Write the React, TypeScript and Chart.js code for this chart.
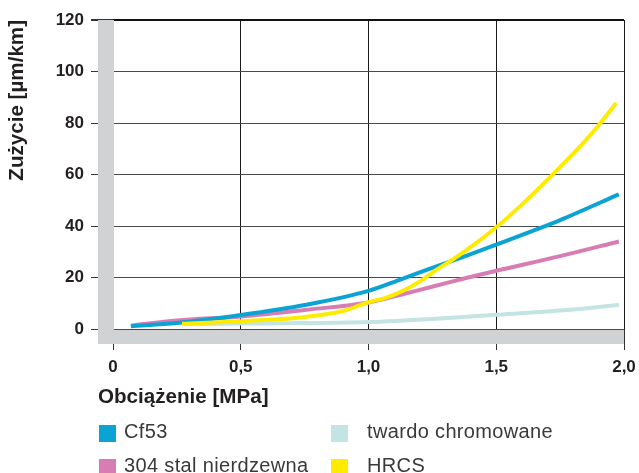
import React, { useEffect, useRef } from 'react';
import { Chart, registerables } from 'chart.js';

Chart.register(...registerables);

// ---- data ----
const xTickValues = [0, 0.5, 1, 1.5, 2];
const xTickLabels = ['0', '0,5', '1,0', '1,5', '2,0'];
const yTickValues = [0, 20, 40, 60, 80, 100, 120];

const cf53X = [0.07, 0.25, 0.5, 0.75, 1.0, 1.13, 1.26, 1.39, 1.5, 1.75, 1.98];
const cf53Y = [1.1, 2.3, 5.4, 9.3, 14.8, 19.4, 24.1, 28.7, 32.8, 42.3, 52.3];

const stal304X = [0.07, 0.25, 0.5, 0.75, 1.0, 1.13, 1.26, 1.39, 1.5, 1.75, 1.98];
const stal304Y = [1.3, 3.3, 4.9, 7.4, 10.3, 13.4, 16.7, 20.0, 22.6, 28.3, 34.0];

const chromX = [0.27, 0.5, 0.75, 1.0, 1.25, 1.5, 1.75, 1.98];
const chromY = [1.9, 2.1, 2.3, 2.7, 3.9, 5.5, 7.2, 9.3];

const hrcsX = [0.27, 0.5, 0.75, 0.9, 1.0, 1.07, 1.13, 1.2, 1.26, 1.33, 1.39, 1.5, 1.6, 1.74, 1.87, 1.97];
const hrcsY = [2.0, 3.0, 4.7, 7.0, 10.4, 12.2, 14.6, 18.4, 22.6, 27.0, 31.1, 39.5, 48.3, 61.9, 75.5, 87.8];

const seriesNames = ['Cf53', '304 stal nierdzewna', 'twardo chromowane', 'HRCS'];
const seriesColors = ['#0aa3d4', '#d77db3', '#c3e4e2', '#ffeb00'];

const yTitle = 'Zużycie [µm/km]';
const xTitle = 'Obciążenie [MPa]';

const FONT = "'Liberation Sans', Arial, Helvetica, sans-serif";

const toPts = (xs: number[], ys: number[]) => xs.map((x, i) => ({ x, y: ys[i] }));

const grayBars = {
  id: 'grayBars',
  beforeDatasetsDraw(chart: any) {
    const { ctx, chartArea } = chart;
    const { left, right, top, bottom } = chartArea;
    ctx.save();
    ctx.fillStyle = '#d1d2d4';
    ctx.fillRect(left - 15, top, 16, bottom + 15 - top);
    ctx.fillRect(left - 15, bottom + 1, right - left + 15, 14);
    ctx.restore();
  },
};

export default function App() {
  const ref = useRef<HTMLCanvasElement | null>(null);

  useEffect(() => {
    if (!ref.current) return;
    const mk = (i: number, xs: number[], ys: number[], order: number) => ({
      label: seriesNames[i],
      data: toPts(xs, ys),
      borderColor: seriesColors[i],
      backgroundColor: seriesColors[i],
      borderWidth: 4,
      pointRadius: 0,
      showLine: true,
      fill: false,
      cubicInterpolationMode: 'monotone' as const,
      borderCapStyle: 'butt' as const,
      order,
    });
    const chart = new Chart(ref.current, {
      type: 'scatter',
      data: {
        datasets: [
          mk(3, hrcsX, hrcsY, 0),
          mk(0, cf53X, cf53Y, 1),
          mk(1, stal304X, stal304Y, 2),
          mk(2, chromX, chromY, 3),
        ],
      },
      options: {
        animation: false,
        responsive: false,
        devicePixelRatio: 1,
        layout: { padding: { top: 20, right: 15, left: 0, bottom: 0 } },
        plugins: { legend: { display: false }, tooltip: { enabled: false } },
        scales: {
          x: {
            type: 'linear',
            min: 0,
            max: 2,
            afterFit: (s: any) => { s.height = 144; s.paddingRight = 0; s.paddingLeft = 0; },
            afterBuildTicks: (s: any) => { s.ticks = xTickValues.map((v) => ({ value: v })); },
            border: { display: false },
            grid: {
              color: '#1a1a1a',
              lineWidth: 1,
              tickLength: 21,
              tickColor: '#333',
            },
            ticks: {
              padding: 7,
              color: '#231f20',
              font: { family: FONT, size: 17, weight: 'bold' },
              callback: (v: any) => {
                const i = xTickValues.indexOf(Number(v));
                return i >= 0 ? xTickLabels[i] : '';
              },
            },
          },
          y: {
            type: 'linear',
            min: 0,
            max: 120,
            afterFit: (s: any) => { s.width = 113; },
            afterBuildTicks: (s: any) => { s.ticks = yTickValues.map((v) => ({ value: v })); },
            border: { display: false },
            grid: {
              color: (c: any) => (c.tick && c.tick.value === 120 ? '#111' : '#4a4a4a'),
              lineWidth: (c: any) => (c.tick && c.tick.value === 120 ? 2 : 1),
              tickLength: 22,
              tickColor: '#333',
            },
            ticks: {
              padding: 7,
              color: '#231f20',
              font: { family: FONT, size: 17, weight: 'bold' },
            },
            title: {
              display: true,
              text: yTitle,
              align: 'end',
              color: '#231f20',
              font: { family: FONT, size: 20.6, weight: 'bold' },
              padding: { top: 5, bottom: 0 },
            },
          },
        },
      },
      plugins: [grayBars],
    } as any);
    return () => chart.destroy();
  }, []);

  const legendItems = [
    { i: 0, left: 99, top: 425 },
    { i: 2, left: 331, top: 425 },
    { i: 1, left: 99, top: 459 },
    { i: 3, left: 331, top: 459 },
  ];

  return (
    <div style={{ position: 'absolute', left: 0, top: 0, width: 639, height: 473, background: '#fff', overflow: 'hidden' }}>
      <canvas ref={ref} width={639} height={473} style={{ position: 'absolute', left: 0, top: 0, width: 639, height: 473 }} />
      <div
        style={{
          position: 'absolute', left: 98, top: 386, fontFamily: FONT, fontWeight: 'bold',
          fontSize: 20.6, lineHeight: '20px', color: '#231f20', whiteSpace: 'nowrap',
        }}
      >
        {xTitle}
      </div>
      {legendItems.map(({ i, left, top }) => (
        <React.Fragment key={i}>
          <div style={{ position: 'absolute', left, top, width: 17, height: 17, background: seriesColors[i] }} />
          <div
            style={{
              position: 'absolute', left: left + (left > 200 ? 36 : 25), top: top - 4, fontFamily: FONT,
              fontSize: 20, lineHeight: '20px', color: '#3a3a3a', whiteSpace: 'nowrap', letterSpacing: '0.35px',
            }}
          >
            {seriesNames[i]}
          </div>
        </React.Fragment>
      ))}
    </div>
  );
}
